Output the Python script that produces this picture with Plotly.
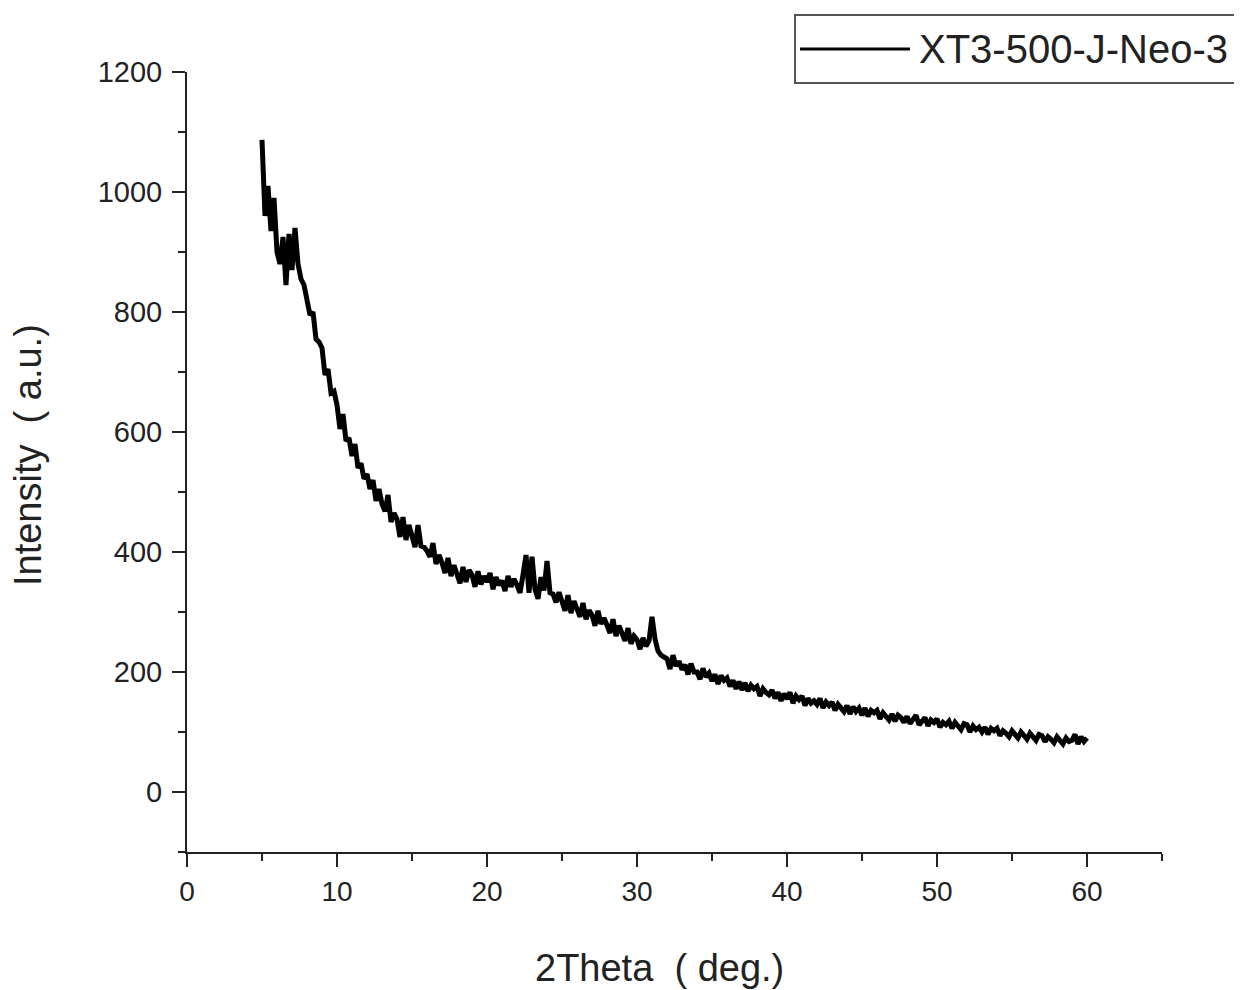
import plotly.graph_objects as go

# 2Theta sampled every 0.2 deg from 5 to 60
two_theta_start = 5.0
two_theta_step = 0.2

intensity = [
    # 5
    1087, 960, 1010, 935, 990,
    # 6
    900, 880, 925, 845, 930,
    # 7
    870, 940, 880, 855, 845,
    # 8
    820, 795, 800, 755, 750,
    # 9
    740, 695, 705, 665, 668,
    # 10
    645, 605, 630, 585, 590,
    # 11
    560, 580, 540, 548, 522,
    # 12
    530, 505, 520, 485, 505,
    # 13
    480, 468, 495, 450, 465,
    # 14
    455, 425, 458, 420, 445,
    # 15
    422, 408, 445, 410, 408,
    # 16
    402, 392, 415, 380, 395,
    # 17
    382, 365, 390, 360, 378,
    # 18
    362, 348, 375, 350, 370,
    # 19
    362, 342, 368, 346, 360,
    # 20
    350, 365, 338, 358, 345,
    # 21
    352, 335, 360, 342, 355,
    # 22
    345, 332, 362, 395, 332,
    # 23
    392, 338, 322, 358, 336,
    # 24
    385, 332, 330, 316, 333,
    # 25
    315, 302, 328, 298, 318,
    # 26
    302, 292, 315, 288, 303,
    # 27
    295, 277, 302, 280, 290,
    # 28
    278, 265, 288, 260, 277,
    # 29
    262, 252, 273, 247, 260,
    # 30
    254, 238, 257, 243, 252,
    # 31
    292, 255, 235, 228, 225,
    # 32
    222, 205, 228, 210, 218,
    # 33
    204, 212, 196, 214, 200,
    # 34
    200, 188, 206, 192, 198,
    # 35
    185, 196, 180, 194, 186,
    # 36
    190, 176, 186, 172, 184,
    # 37
    170, 182, 168, 178, 172,
    # 38
    176, 160, 172, 166, 162,
    # 39
    170, 156, 166, 152, 164,
    # 40
    155, 166, 148, 160, 154,
    # 41
    160, 144, 156, 148, 152,
    # 42
    146, 156, 140, 150, 144,
    # 43
    150, 136, 146, 140, 134,
    # 44
    144, 130, 142, 134, 140,
    # 45
    128, 140, 126, 136, 132,
    # 46
    136, 122, 132, 126, 120,
    # 47
    130, 118, 128, 124, 116,
    # 48
    126, 114, 122, 128, 112,
    # 49
    118, 124, 110, 120, 116,
    # 50
    122, 108, 116, 112, 118,
    # 51
    106, 116, 110, 104, 114,
    # 52
    112, 100, 110, 104, 108,
    # 53
    100, 108, 96, 106, 102,
    # 54
    106, 94, 102, 98, 92,
    # 55
    102, 96, 90, 100, 94,
    # 56
    88, 98, 92, 86, 96,
    # 57
    94, 84, 92, 88, 82,
    # 58
    92, 86, 80, 90, 84,
    # 59
    86, 96, 80, 92, 84,
    # 60
    90,
]

two_theta = [round(two_theta_start + i * two_theta_step, 2) for i in range(len(intensity))]

x_ticks = [0, 10, 20, 30, 40, 50, 60]
y_ticks = [0, 200, 400, 600, 800, 1000, 1200]
series_name = "XT3-500-J-Neo-3"
x_title = "2Theta\u00a0\u00a0(\u00a0deg.)"
y_title = "Intensity\u00a0\u00a0(\u00a0a.u.)"

FONT = "Arial, Liberation Sans, Helvetica, sans-serif"
AXC = "#222222"

fig = go.Figure()
fig.add_trace(go.Scatter(
    x=two_theta, y=intensity, mode="lines", name=series_name,
    line=dict(color="black", width=5), showlegend=False,
))

fig.update_layout(
    width=1242, height=990,
    margin=dict(l=179, r=88, t=64, b=146),
    paper_bgcolor="white", plot_bgcolor="white",
    font=dict(family=FONT, color=AXC),
    xaxis=dict(
        range=[0, 65], tickvals=x_ticks, ticktext=[str(v) for v in x_ticks],
        showgrid=False, zeroline=False, showline=True, linecolor=AXC, linewidth=2,
        ticks="outside", ticklen=13, tickwidth=2, tickcolor=AXC,
        minor=dict(dtick=5, ticks="outside", ticklen=7, tickwidth=2, tickcolor=AXC),
        tickfont=dict(size=28, family=FONT, color=AXC),
    ),
    yaxis=dict(
        range=[-100, 1200], tickvals=y_ticks, ticktext=[str(v) for v in y_ticks],
        showgrid=False, zeroline=False, showline=True, linecolor=AXC, linewidth=2,
        ticks="outside", ticklen=13, tickwidth=2, tickcolor=AXC,
        minor=dict(dtick=100, ticks="outside", ticklen=7, tickwidth=2, tickcolor=AXC),
        tickfont=dict(size=29, family=FONT, color=AXC),
        ticklabelstandoff=4,
    ),
)

# axis titles
fig.add_annotation(text=x_title, xref="paper", yref="paper", x=0.485, y=-0.149,
                   showarrow=False, font=dict(size=38, family=FONT, color=AXC),
                   xanchor="center", yanchor="middle")
fig.add_annotation(text=y_title, xref="paper", yref="paper", x=-0.163, y=0.509,
                   showarrow=False, textangle=-90, font=dict(size=38, family=FONT, color=AXC),
                   xanchor="center", yanchor="middle")

# legend box (top right, running past the right edge as in the reference)
fig.add_shape(type="rect", xref="paper", yref="paper", x0=0.6236, x1=1.10, y0=0.986, y1=1.073,
              line=dict(color="#555555", width=2), fillcolor="white")
fig.add_shape(type="line", xref="paper", yref="paper", x0=0.6287, x1=0.7415, y0=1.0295, y1=1.0295,
              line=dict(color="black", width=3))
fig.add_annotation(text=series_name, xref="paper", yref="paper", x=0.749, y=1.0295,
                   showarrow=False, font=dict(size=40, family=FONT, color=AXC),
                   xanchor="left", yanchor="middle")

fig.write_html("out.html")
